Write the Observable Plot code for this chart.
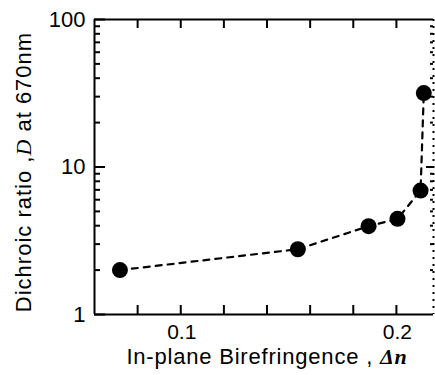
<!DOCTYPE html>
<html>
<head>
<meta charset="utf-8">
<script src="https://cdn.jsdelivr.net/npm/d3@7"></script>
<script src="https://cdn.jsdelivr.net/npm/@observablehq/plot@0.6"></script>
<style>
  html, body { margin: 0; padding: 0; background: #fff; }
  #chart svg { display: block; font-family: "Liberation Sans", Arial, sans-serif; }
</style>
</head>
<body>
<div id="chart"></div>
<script>
// Data
const birefringence = [0.0718, 0.1543, 0.1871, 0.2005, 0.2112, 0.2127];
const dichroicRatio = [2.0, 2.77, 3.97, 4.45, 6.92, 31.7];

const xTicks = [0.08, 0.10, 0.12, 0.14, 0.16, 0.18, 0.20];
const xTickLabels = [0.1, 0.2];
const yMajor = [1, 10, 100];
const yMinor = [2, 3, 4, 5, 6, 7, 8, 9, 20, 30, 40, 50, 60, 70, 80, 90];
const yTickLabels = [1, 10, 100];
const xTitle = "In-plane Birefringence , Δn";
const yTitle = "Dichroic ratio ,D at 670nm";

const xDomain = [0.06, 0.2172];
const yDomain = [1, 100];

const W = 435, H = 375;
const mL = 94, mR = 2, mT = 19, mB = 61;
const fw = W - mL - mR, fh = H - mT - mB;

const data = birefringence.map((x, i) => ({x, y: dichroicRatio[i]}));

const chart = Plot.plot({
  width: W, height: H,
  marginLeft: mL, marginRight: mR, marginTop: mT, marginBottom: mB,
  style: {fontFamily: "Liberation Sans, Arial, sans-serif", color: "black", background: "white"},
  x: {domain: xDomain, axis: null},
  y: {type: "log", domain: yDomain, axis: null},
  marks: [
    // frame: left, bottom, top solid; right dotted
    Plot.ruleX([xDomain[0]], {stroke: "black", strokeWidth: 2}),
    Plot.ruleY([yDomain[0]], {stroke: "black", strokeWidth: 2}),
    Plot.ruleY([yDomain[1]], {stroke: "black", strokeWidth: 2}),
    Plot.ruleX([xDomain[1]], {stroke: "black", strokeWidth: 2, strokeDasharray: "2,5"}),
    // bottom ticks (inward)
    Plot.ruleX(xTicks, {x: d => d, insetTop: fh - 9, stroke: "black", strokeWidth: 2}),
    // top ticks (inward)
    Plot.ruleX(xTicks, {x: d => d, insetBottom: fh - 9, stroke: "black", strokeWidth: 2}),
    // left ticks
    Plot.ruleY(yMajor, {y: d => d, insetRight: fw - 11, stroke: "black", strokeWidth: 2}),
    Plot.ruleY(yMinor, {y: d => d, insetRight: fw - 6, stroke: "black", strokeWidth: 2}),
    // right ticks (dotted side)
    Plot.ruleY([10], {y: d => d, insetLeft: fw - 7, stroke: "black", strokeWidth: 2}),
    Plot.ruleY(yMinor, {y: d => d, insetLeft: fw - 3, stroke: "black", strokeWidth: 2}),
    // tick labels
    Plot.text(xTickLabels, {x: d => d, frameAnchor: "bottom", dy: 24, dx: 1, text: d => d.toFixed(1), fontSize: 21, fill: "black"}),
    Plot.text(yTickLabels, {y: d => d, frameAnchor: "left", dx: -9, textAnchor: "end", text: d => String(d), fontSize: 22, fill: "black"}),
    // axis titles
    Plot.text([xTitle], {frameAnchor: "bottom", dx: 3, dy: 49, textAnchor: "middle", text: d => d, fontSize: 22, fill: "black", className: "xtitle"}),
    Plot.text([yTitle], {frameAnchor: "left", dx: -71, dy: 5, rotate: -90, textAnchor: "middle", text: d => d, fontSize: 22, fill: "black", className: "ytitle"}),
    // data
    Plot.line(data, {x: "x", y: "y", stroke: "black", strokeWidth: 2.2, strokeDasharray: "6,6"}),
    Plot.dot(data, {x: "x", y: "y", r: 8, fill: "black", stroke: "none"})
  ]
});

document.getElementById("chart").appendChild(chart);

// style the math symbols in the titles
const svg = d3.select(chart);
svg.selectAll(".ytitle text").attr("letter-spacing", "1").each(function() {
  const t = d3.select(this);
  const s = t.text();
  const i = s.indexOf(",D");
  t.text(null);
  t.append("tspan").text(s.slice(0, i + 1));
  t.append("tspan").attr("font-family", "Liberation Serif, serif").attr("font-style", "italic").text("D");
  t.append("tspan").text(s.slice(i + 2));
});
svg.selectAll(".xtitle text").attr("letter-spacing", "0.8").each(function() {
  const t = d3.select(this);
  const s = t.text();
  const i = s.indexOf("Δn");
  t.text(null);
  t.append("tspan").text(s.slice(0, i));
  t.append("tspan").attr("font-family", "Liberation Serif, serif").attr("font-style", "italic").attr("font-weight", "bold").text("Δn");
});
</script>
</body>
</html>
